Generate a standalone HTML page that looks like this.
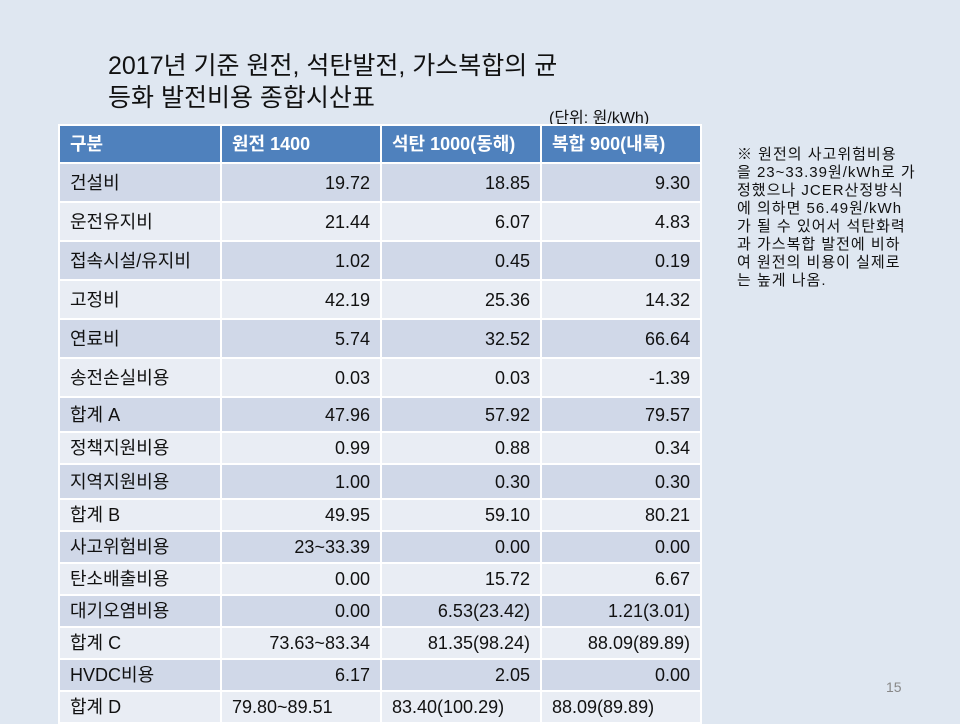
<!DOCTYPE html>
<html><head><meta charset="utf-8"><style>
body{margin:0;width:960px;height:720px;background:#dfe7f1;position:relative;overflow:hidden;font-family:"Liberation Sans","Noto Sans CJK KR",sans-serif;color:#111}
.t{position:absolute;left:108px;top:50px;font-size:25px;line-height:32px}
.u{position:absolute;left:549px;top:104px;font-size:16px}
table{position:absolute;left:58px;top:124px;border-collapse:collapse;font-size:18px}
td{border:2px solid #fff;padding:0 10px;height:35px;box-sizing:border-box;line-height:20px}
td:nth-child(1){width:162px}td:nth-child(2),td:nth-child(3),td:nth-child(4){width:160px;text-align:right}
tr:nth-child(even) td{background:#d0d8e8}
tr:nth-child(odd) td{background:#e9edf4}
table tr.h td{background:#4f81bd;color:#fff;font-weight:bold;text-align:left;height:38px}
tr.s td{height:32px}
.n{position:absolute;left:737px;top:146px;font-size:15px;line-height:18px;width:210px;white-space:nowrap;letter-spacing:1px}
.p{position:absolute;left:886px;top:679px;font-size:14px;color:#888}
</style></head><body>
<div class="t">2017년 기준 원전, 석탄발전, 가스복합의 균<br>등화 발전비용 종합시산표</div>
<div class="u">(단위: 원/kWh)</div>
<table>
<tr class="h"><td>구분</td><td>원전 1400</td><td>석탄 1000(동해)</td><td>복합 900(내륙)</td></tr>
<tr><td style="height:39px">건설비</td><td>19.72</td><td>18.85</td><td>9.30</td></tr>
<tr><td style="height:39px">운전유지비</td><td>21.44</td><td>6.07</td><td>4.83</td></tr>
<tr><td style="height:39px">접속시설/유지비</td><td>1.02</td><td>0.45</td><td>0.19</td></tr>
<tr><td style="height:39px">고정비</td><td>42.19</td><td>25.36</td><td>14.32</td></tr>
<tr><td style="height:39px">연료비</td><td>5.74</td><td>32.52</td><td>66.64</td></tr>
<tr><td style="height:39px">송전손실비용</td><td>0.03</td><td>0.03</td><td>-1.39</td></tr>
<tr><td style="height:33px">합계 A</td><td>47.96</td><td>57.92</td><td>79.57</td></tr>
<tr class="s"><td>정책지원비용</td><td>0.99</td><td>0.88</td><td>0.34</td></tr>
<tr><td style="height:33px">지역지원비용</td><td>1.00</td><td>0.30</td><td>0.30</td></tr>
<tr class="s"><td>합계 B</td><td>49.95</td><td>59.10</td><td>80.21</td></tr>
<tr class="s"><td>사고위험비용</td><td>23~33.39</td><td>0.00</td><td>0.00</td></tr>
<tr class="s"><td>탄소배출비용</td><td>0.00</td><td>15.72</td><td>6.67</td></tr>
<tr class="s"><td>대기오염비용</td><td>0.00</td><td>6.53(23.42)</td><td>1.21(3.01)</td></tr>
<tr class="s"><td>합계 C</td><td>73.63~83.34</td><td>81.35(98.24)</td><td>88.09(89.89)</td></tr>
<tr class="s"><td>HVDC비용</td><td>6.17</td><td>2.05</td><td>0.00</td></tr>
<tr class="s"><td>합계 D</td><td style="text-align:left">79.80~89.51</td><td style="text-align:left">83.40(100.29)</td><td style="text-align:left">88.09(89.89)</td></tr>
</table>
<div class="n">※ 원전의 사고위험비용<br>을 23~33.39원/kWh로 가<br>정했으나 JCER산정방식<br>에 의하면 56.49원/kWh<br>가 될 수 있어서 석탄화력<br>과 가스복합 발전에 비하<br>여 원전의 비용이 실제로<br>는 높게 나옴.</div>
<div class="p">15</div>
</body></html>
